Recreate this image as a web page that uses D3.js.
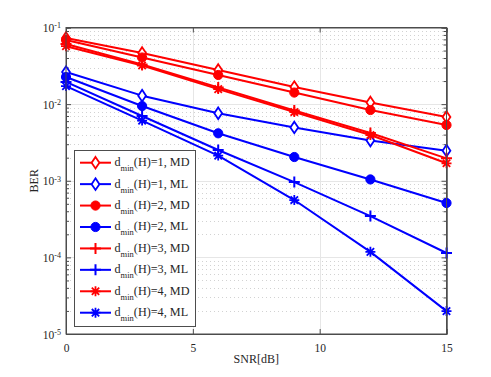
<!DOCTYPE html>
<html><head><meta charset="utf-8">
<script src="https://cdn.jsdelivr.net/npm/d3@7"></script>
<style>body{margin:0;background:#fff}svg{display:block}text{font-family:"Liberation Serif","Times New Roman",serif;fill:#262626}</style>
</head><body><svg id="c" width="491" height="377"></svg>
<script>
const snr = [0, 3, 6, 9, 12, 15];
const md1 = [0.073, 0.0465, 0.0279, 0.0167, 0.0105, 0.00679];
const ml1 = [0.0262, 0.0129, 0.0076, 0.00496, 0.00335, 0.00247];
const md2 = [0.0687, 0.0406, 0.024, 0.01416, 0.00838, 0.00533];
const ml2 = [0.0226, 0.00944, 0.00416, 0.00204, 0.00104, 0.000512];
const md3 = [0.061, 0.0329, 0.0165, 0.00824, 0.0042, 0.00196];
const ml3 = [0.0195, 0.0070, 0.00252, 0.00096, 0.000346, 0.000114];
const md4 = [0.057, 0.0319, 0.0157, 0.00788, 0.00395, 0.00169];
const ml4 = [0.0172, 0.0061, 0.00213, 0.00056, 0.000118, 0.0000199];
const seriesValues = [md1, ml1, md2, ml2, md3, ml3, md4, ml4];
const seriesDmin = ["1", "1", "2", "2", "3", "3", "4", "4"];
const seriesDet = ["MD", "ML", "MD", "ML", "MD", "ML", "MD", "ML"];
const seriesColor = ["#ff0000", "#0000ff", "#ff0000", "#0000ff", "#ff0000", "#0000ff", "#ff0000", "#0000ff"];
const seriesMarker = ["diamond", "diamond", "circle", "circle", "plus", "plus", "star", "star"];
const xTicks = [0, 5, 10, 15];
const yTicks = [1e-5, 1e-4, 1e-3, 1e-2, 1e-1];
const yTickExp = ["-5", "-4", "-3", "-2", "-1"];
const xLabel = "SNR[dB]";
const yLabel = "BER";

const svg = d3.select("#c");
const L = 66, R = 446.5, T = 27.5, B = 334;
const x = d3.scaleLinear().domain([0, 15]).range([L, R]);
const y = d3.scaleLog().domain([1e-5, 1e-1]).range([B, T]);

const minor = [];
for (let e = -5; e < -1; e++) for (let k = 2; k <= 9; k++) minor.push(k * Math.pow(10, e));

const g = svg.append("g");
g.selectAll(".mg").data(minor).join("line")
  .attr("x1", L).attr("x2", R).attr("y1", d => Math.round(y(d)) + 0.5).attr("y2", d => Math.round(y(d)) + 0.5)
  .attr("stroke", "#d2d2d2").attr("stroke-width", 1).attr("stroke-dasharray", "1,3");
g.selectAll(".gy").data(yTicks.slice(1, -1)).join("line")
  .attr("x1", L).attr("x2", R).attr("y1", d => Math.round(y(d)) + 0.5).attr("y2", d => Math.round(y(d)) + 0.5)
  .attr("stroke", "#e6e6e6").attr("stroke-width", 1);
g.selectAll(".gx").data(xTicks.slice(1, -1)).join("line")
  .attr("y1", T).attr("y2", B).attr("x1", d => Math.round(x(d)) + 0.5).attr("x2", d => Math.round(x(d)) + 0.5)
  .attr("stroke", "#e6e6e6").attr("stroke-width", 1);

const axCol = "#4d4d4d";
const axB = svg.append("g").attr("transform", `translate(0,${B})`)
  .call(d3.axisBottom(x).tickValues(xTicks).tickSize(-5).tickPadding(10).tickFormat(d3.format("d")));
const axT = svg.append("g").attr("transform", `translate(0,${T})`)
  .call(d3.axisTop(x).tickValues(xTicks).tickSize(-5).tickFormat(""));
const axL = svg.append("g").attr("transform", `translate(${L},0)`)
  .call(d3.axisLeft(y).tickValues(yTicks).tickSize(-5).tickFormat(""));
const axR = svg.append("g").attr("transform", `translate(${R},0)`)
  .call(d3.axisRight(y).tickValues(yTicks).tickSize(-5).tickFormat(""));
const axLm = svg.append("g").attr("transform", `translate(${L},0)`)
  .call(d3.axisLeft(y).tickValues(minor).tickSize(-3).tickFormat(""));
const axRm = svg.append("g").attr("transform", `translate(${R},0)`)
  .call(d3.axisRight(y).tickValues(minor).tickSize(-3).tickFormat(""));
[axB, axT, axL, axR, axLm, axRm].forEach(a => {
  a.select(".domain").attr("stroke", axCol);
  a.selectAll(".tick line").attr("stroke", axCol);
});
axB.selectAll(".tick text").attr("font-size", 11.5).attr("fill", "#262626")
  .attr("font-family", "Liberation Serif");
axL.selectAll(".tick text").each(function (d, i) {
  const t = d3.select(this).attr("font-size", 11.5).attr("fill", "#262626")
    .attr("font-family", "Liberation Serif").attr("x", -5).attr("dy", "0.35em").attr("text-anchor", "end");
  t.text(null);
  t.append("tspan").text("10");
  t.append("tspan").attr("dy", "-0.45em").attr("font-size", 8).text(yTickExp[i]);
});

svg.append("text").attr("x", (L + R) / 2).attr("y", 363).attr("text-anchor", "middle")
  .attr("font-size", 12).text(xLabel);
svg.append("text").attr("transform", `translate(38,${(T + B) / 2}) rotate(-90)`).attr("text-anchor", "middle")
  .attr("font-size", 12).text(yLabel);

function drawMarker(sel, type, color) {
  if (type === "diamond") {
    sel.append("path").attr("d", "M0,-5.8L3.9,0L0,5.8L-3.9,0Z").attr("fill", "#fff")
      .attr("stroke", color).attr("stroke-width", 1.8);
  } else if (type === "circle") {
    sel.append("circle").attr("r", 4.6).attr("fill", color).attr("stroke", color).attr("stroke-width", 1);
  } else if (type === "plus") {
    sel.append("path").attr("d", "M-5.5,0H5.5M0,-5.5V5.5").attr("stroke", color).attr("stroke-width", 2).attr("fill", "none");
  } else if (type === "star") {
    sel.append("path").attr("d", "M-5,0H5M0,-5V5M-3.7,-3.7L3.7,3.7M-3.7,3.7L3.7,-3.7")
      .attr("stroke", color).attr("stroke-width", 1.8).attr("fill", "none");
  }
}

const line = d3.line().x((d, i) => x(snr[i])).y(d => y(d));
const plot = svg.append("g");
seriesValues.forEach((vals, s) => {
  const sg = plot.append("g");
  sg.append("path").datum(vals).attr("d", line).attr("fill", "none")
    .attr("stroke", seriesColor[s]).attr("stroke-width", 2).attr("stroke-linejoin", "round");
  vals.forEach((v, i) => {
    const m = sg.append("g").attr("transform", `translate(${x(snr[i])},${y(v)})`);
    drawMarker(m, seriesMarker[s], seriesColor[s]);
  });
});
svg.append("rect").attr("x", L).attr("y", T).attr("width", R - L).attr("height", B - T)
  .attr("fill", "none").attr("stroke", axCol).attr("stroke-width", 1);

const lg = svg.append("g");
lg.append("rect").attr("x", 74.5).attr("y", 150.5).attr("width", 121).attr("height", 176)
  .attr("fill", "#fff").attr("stroke", axCol).attr("stroke-width", 1);
seriesValues.forEach((vals, s) => {
  const cy = 162.7 + s * 21.43;
  const e = lg.append("g").attr("transform", `translate(0,${cy})`);
  e.append("line").attr("x1", 80).attr("x2", 111).attr("stroke", seriesColor[s]).attr("stroke-width", 2);
  const m = e.append("g").attr("transform", "translate(95.5,0)");
  drawMarker(m, seriesMarker[s], seriesColor[s]);
  const t = e.append("text").attr("x", 114.5).attr("y", 3.5).attr("font-size", 12.2);
  t.append("tspan").text("d");
  t.append("tspan").attr("dy", 5).attr("font-size", 8.5).text("min");
  t.append("tspan").attr("dy", -5).text(`(H)=${seriesDmin[s]}, ${seriesDet[s]}`);
});
</script></body></html>
